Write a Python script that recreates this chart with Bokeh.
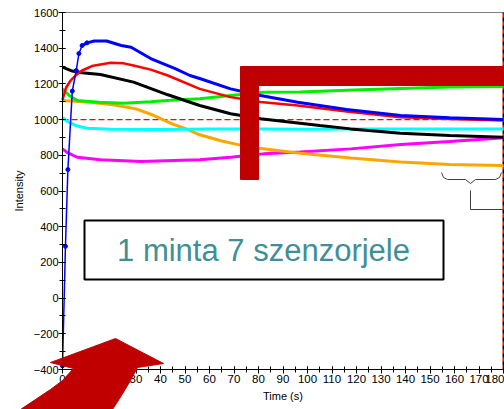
from bokeh.plotting import figure
from bokeh.models import Range1d, BoxAnnotation, PolyAnnotation, Label, FixedTicker
from bokeh.embed import file_html
from bokeh.resources import INLINE

# ---------------- data ----------------
x_ticks = list(range(0, 181, 10))
x_minor = list(range(0, 181, 5))
y_ticks = list(range(-400, 1601, 200))
y_minor = list(range(-400, 1601, 100))

t_blue_rise = [0, 1.2, 2.2, 4.0, 5.6, 6.7, 8.0, 10.0]
blue_rise = [-380, 290, 720, 1160, 1275, 1370, 1415, 1430]
t_blue = [8, 10, 13, 18, 24, 28, 36, 46, 52, 56, 68.6, 80.8, 96, 116, 138, 158, 180]
blue = [1415, 1430, 1440, 1440, 1415, 1405, 1342, 1285, 1247, 1230, 1172, 1135, 1097, 1056, 1023, 1010, 1000]

t_red = [0, 1.5, 3.3, 5.3, 8, 12, 19.6, 25, 29, 36, 43, 56, 68.6, 80.8, 96, 116, 138, 158, 180]
red = [1110, 1180, 1219, 1247, 1275, 1300, 1318, 1315, 1303, 1280, 1247, 1172, 1126, 1098, 1079, 1045, 1013, 1004, 995]

t_black = [0, 4, 8, 15.5, 29, 43, 56, 68.6, 80.8, 105, 117.6, 138, 158, 180]
black = [1294, 1272, 1262, 1253, 1210, 1139, 1079, 1033, 1005, 967, 948, 924, 911, 901]

t_green = [0, 2.7, 6, 15, 25, 36, 44, 56, 68.6, 82, 97, 116, 138, 158, 180]
green = [1172, 1135, 1107, 1097, 1092, 1100, 1108, 1117, 1135, 1153, 1155, 1165, 1174, 1182, 1186]

t_cyan = [0, 2, 5.3, 10, 20, 40, 60, 80, 100, 120, 140, 160, 180]
cyan = [1010, 990, 967, 952, 946, 945, 947, 948, 946, 947, 947, 948, 948]

t_orange = [0, 10, 20, 30, 36, 45, 51, 56, 65, 72.6, 80, 97, 117.6, 138, 158, 180]
orange = [1107, 1098, 1085, 1060, 1030, 975, 945, 915, 880, 857, 840, 812, 785, 762, 748, 743]

t_magenta = [0, 2, 6, 15.5, 32, 56, 68.6, 82, 97, 117.6, 138, 158, 180]
magenta = [836, 815, 789, 775, 765, 775, 789, 808, 818, 836, 860, 877, 898]

ref_level = 1000
t_end = 180
box_text = "1 minta 7 szenzorjele"

# ---------------- geometry ----------------
W, H = 504, 409
X0, X1, Y0, Y1 = 0, 180, -400, 1600
FL, FR, FT, FB = 62, 503, 12, 369   # where the chart box sits on the page (px)


def px2t(px):
    return X0 + (px - FL) / (FR - FL) * (X1 - X0)


def py2v(py):
    return Y1 - (py - FT) / (FB - FT) * (Y1 - Y0)


p = figure(width=W, height=H, output_backend="svg", toolbar_location=None,
           x_range=Range1d(px2t(0), px2t(W)), y_range=Range1d(py2v(H), py2v(0)),
           min_border=0, min_border_left=0, min_border_right=0,
           min_border_top=0, min_border_bottom=0)
p.background_fill_color = "white"
p.border_fill_color = "white"
p.outline_line_color = None
p.xgrid.visible = False
p.ygrid.visible = False

p.xaxis.ticker = FixedTicker(ticks=x_ticks, minor_ticks=x_minor)
p.yaxis.ticker = FixedTicker(ticks=y_ticks, minor_ticks=y_minor)
p.xaxis.fixed_location = Y0
p.yaxis.fixed_location = X0
p.xaxis.bounds = (X0, X1)
p.yaxis.bounds = (Y0, Y1)
for ax in (p.xaxis[0], p.yaxis[0]):
    ax.axis_line_color = "black"
    ax.major_tick_line_color = "black"
    ax.minor_tick_line_color = "black"
    ax.major_tick_in = 3
    ax.major_tick_out = 4
    ax.minor_tick_in = 3
    ax.minor_tick_out = 3
    ax.major_label_text_color = "black"
    ax.axis_label_text_color = "black"
    ax.axis_label_text_font_style = "normal"

p.yaxis.major_label_text_font = "Liberation Sans"
p.yaxis.major_label_text_font_size = "11px"
p.yaxis.major_label_standoff = 0
p.yaxis.axis_label = "Intensity"
p.yaxis.axis_label_text_font = "Liberation Sans"
p.yaxis.axis_label_text_font_size = "11px"
p.yaxis.axis_label_standoff = 6

p.xaxis.major_label_text_font = "Liberation Sans"
p.xaxis.major_label_text_font_size = "11.5px"
p.xaxis.major_label_standoff = 1
p.xaxis.axis_label = "Time (s)"
p.xaxis.axis_label_text_font = "Liberation Sans"
p.xaxis.axis_label_text_font_size = "11px"
p.xaxis.axis_label_standoff = 4

# chart box (top edge grey)
p.add_layout(BoxAnnotation(left=X0, right=X1, bottom=Y0, top=Y1, fill_alpha=0,
                           line_color="#808080", line_alpha=1, line_width=1, level="underlay"))

# reference lines
p.line([X0, X1], [ref_level, ref_level], line_color="#FF0000", line_width=1.2, line_dash="6 3")
p.line([t_end, t_end], [Y0, Y1], line_color="#FF0000", line_width=2, line_dash="4 4")
p.line([t_end, t_end], [Y0, Y1], line_color="black", line_width=2, line_dash="4 4",
       line_dash_offset=4)

# series
p.line(t_magenta, magenta, line_color="#FF00FF", line_width=3)
p.line(t_orange, orange, line_color="#FFA500", line_width=3)
p.line(t_cyan, cyan, line_color="#00FFFF", line_width=3)
p.line(t_green, green, line_color="#00EE00", line_width=3)
p.line(t_black, black, line_color="black", line_width=3)
p.line(t_red, red, line_color="#FF0000", line_width=2.5)
p.line(t_blue_rise, blue_rise, line_color="#0000FF", line_width=1.5)
p.scatter(t_blue_rise, blue_rise, marker="circle", size=4, color="#0000FF")
p.line(t_blue, blue, line_color="#0000FF", line_width=3)

# ---------------- overlay decorations ----------------
DARK_RED = "#C00000"
bracket_px = [(240, 66), (520, 66), (520, 85), (258, 85), (258, 179), (240, 179)]
p.add_layout(PolyAnnotation(xs=[px2t(a) for a, b in bracket_px], ys=[py2v(b) for a, b in bracket_px],
                            fill_color=DARK_RED, fill_alpha=1, line_color=DARK_RED, line_alpha=1))

arrow_px = [(50, 362), (115, 338), (163, 363), (137, 367), (130, 380), (121, 395), (112, 409),
            (108, 420), (10, 420), (20, 409), (35, 399), (50, 389), (62, 380), (73, 368)]
p.add_layout(PolyAnnotation(xs=[px2t(a) for a, b in arrow_px], ys=[py2v(b) for a, b in arrow_px],
                            fill_color=DARK_RED, fill_alpha=1, line_color=DARK_RED, line_alpha=1))

p.add_layout(BoxAnnotation(left=px2t(84), right=px2t(443), top=py2v(220), bottom=py2v(279),
                           fill_color="white", fill_alpha=1, line_color="black",
                           line_alpha=1, line_width=2))
p.add_layout(Label(x=px2t(263), y=py2v(250), text=box_text, text_align="center",
                   text_baseline="middle", text_font="Liberation Sans",
                   text_font_size="31px", text_color="#3F8F96"))

brace_px = [(441, 172), (443, 177), (447, 179), (465, 179), (470, 183), (475, 179),
            (495, 179), (499, 177), (501, 172)]
p.line([px2t(a) for a, b in brace_px], [py2v(b) for a, b in brace_px],
       line_color="#404040", line_width=1)
stem_px = [(470, 190), (470, 209), (504, 209)]
p.line([px2t(a) for a, b in stem_px], [py2v(b) for a, b in stem_px],
       line_color="#404040", line_width=1)

open("out.html", "w").write(file_html(p, INLINE))
